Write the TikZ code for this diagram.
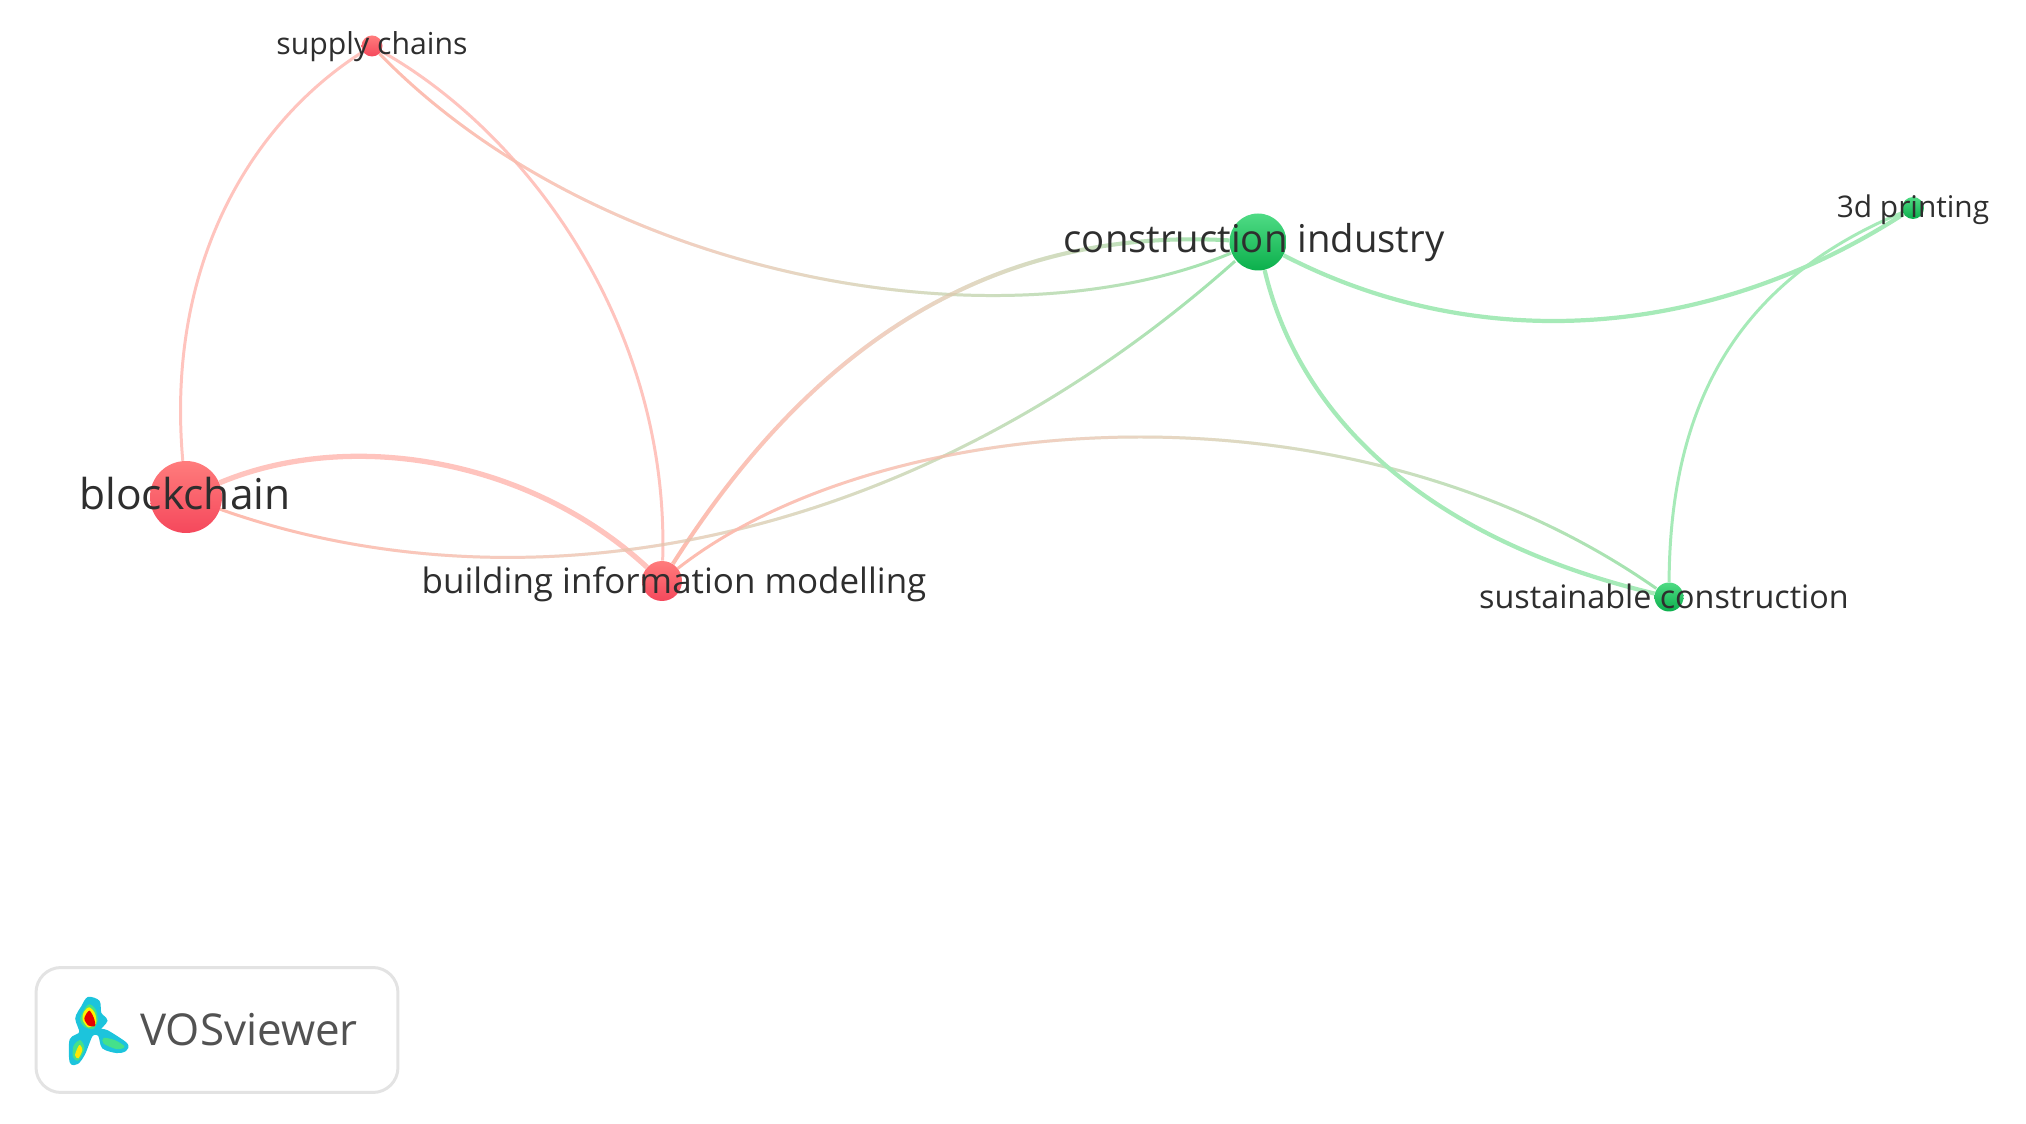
\documentclass[tikz,border=0pt]{standalone}
\usepackage{fontspec}
\setmainfont{Open Sans}
\usetikzlibrary{fadings,backgrounds}
\definecolor{edgered}{HTML}{FFC4BE}
\definecolor{edgegreen}{HTML}{A6EAB8}
\definecolor{mixred}{HTML}{FDBBAE}
\definecolor{mixgreen}{HTML}{A0E4AE}
\definecolor{labelgray}{HTML}{2E2E2E}
\definecolor{redtop}{HTML}{FF7C7C}
\definecolor{redbottom}{HTML}{F5485C}
\definecolor{greentop}{HTML}{4FDB84}
\definecolor{greenbottom}{HTML}{0BAF4C}
\definecolor{logocyan}{HTML}{1CC4DC}
\definecolor{logogreen}{HTML}{45E08A}
\tikzset{
  keyword/.style={circle, inner sep=0pt, draw=none, minimum size=#1},
  redkey/.style={keyword=#1, top color=redtop, bottom color=redbottom},
  greenkey/.style={keyword=#1, top color=greentop, bottom color=greenbottom},
  redlink/.style={draw=edgered, line width=1.7pt},
  greenlink/.style={draw=edgegreen, line width=1.7pt},
  mixlink/.style={draw=mixred, line width=#1, path fading=east,
    preaction={draw=mixgreen, line width=#1, path fading=west}},
  mixlink/.default=1.7pt,
  keylabel/.style={font=\fontsize{#1}{#1}\selectfont, text=labelgray}
}

\begin{document}
\begin{tikzpicture}[x=0.02cm,y=-0.02cm]
    \useasboundingbox (0,0) rectangle (2026,1124);

    \node [redkey=1.44cm] (blockchain) at (186,497) {};
    \node [redkey=0.8cm] (bim) at (662,581) {};
    \node [redkey=0.42cm] (supply) at (372,46) {};
    \node [greenkey=1.14cm] (construction) at (1258,242) {};
    \node [greenkey=0.44cm] (printing) at (1913,208) {};
    \node [greenkey=0.58cm] (sustainable) at (1669,597) {};

    \node [keylabel=24.2] (lblockchain) at (185,494) {blockchain};
    \node [keylabel=19.9] (lbim) at (674,584) {building information modelling};
    \node [keylabel=17.2] (lsupply) at (372,47) {supply chains};
    \node [keylabel=21.8] (lconstruction) at (1254,243) {construction industry};
    \node [keylabel=17] (lprinting) at (1913,210) {3d printing};
    \node [keylabel=18.4] (lsustainable) at (1664,596) {sustainable construction};

    \begin{scope}[on background layer]
        \draw [redlink] (supply) .. controls (255,120) and (165,260) .. (blockchain);
        \draw [redlink] (supply) .. controls (530,135) and (670,330) .. (bim);
        \draw [redlink, line width=3pt] (blockchain) .. controls (345,430) and (525,455) .. (bim);
        \draw [mixlink] (supply) .. controls (600,280) and (1000,350) .. (construction);
        \draw [mixlink=2.3pt] (bim) .. controls (790,380) and (960,225) .. (construction);
        \draw [mixlink] (blockchain) .. controls (510,612) and (900,560) .. (construction);
        \draw [mixlink] (bim) .. controls (880,410) and (1345,370) .. (sustainable);
        \draw [greenlink, line width=2.4pt] (construction) .. controls (1470,352) and (1700,345) .. (printing);
        \draw [greenlink, line width=2.4pt] (construction) .. controls (1300,420) and (1430,540) .. (sustainable);
        \draw [greenlink] (printing) .. controls (1740,280) and (1670,400) .. (sustainable);
    \end{scope}

    \node [draw=black!11, line width=1.7pt, rounded corners=0.5cm, minimum width=7.24cm, minimum height=2.5cm] (logobox) at (217,1030) {};
    \node [font=\fontsize{25}{25}\selectfont, text=black!68, anchor=west] (logotext) at (134,1030) {VOSviewer};

    \begin{scope}[shift={(20,950)},x=0.00667cm,y=-0.00667cm]
        \filldraw [logocyan, line width=1.6pt] plot [smooth cycle] coordinates {(205,145) (235,155) (240,190) (258,212) (238,238) (262,245) (318,282) (315,300) (290,305) (250,292) (238,255) (215,255) (192,310) (172,338) (153,335) (153,270) (182,248) (170,205) (188,170)};
        \filldraw [logogreen, line width=0.5pt] plot [smooth cycle] coordinates {(205,165) (225,178) (232,210) (220,235) (195,230) (182,205)};
        \filldraw [logogreen, line width=0.5pt] plot [smooth cycle] coordinates {(180,272) (192,295) (175,330) (160,320) (162,288)};
        \filldraw [logogreen, line width=0.5pt] plot [smooth cycle] coordinates {(252,265) (285,272) (312,290) (290,296) (252,280)};
        \fill [yellow] plot [smooth cycle] coordinates {(208,172) (225,190) (228,220) (205,232) (188,210) (192,185)};
        \fill [yellow!90!orange] plot [smooth cycle] coordinates {(178,285) (187,300) (175,325) (165,315)};
        \fill [red!90!black] plot [smooth cycle] coordinates {(208,182) (222,205) (225,228) (205,226) (193,205)};
    \end{scope}
\end{tikzpicture}
\end{document}
